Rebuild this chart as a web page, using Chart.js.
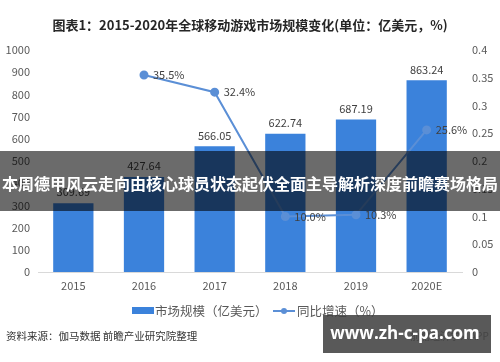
<!DOCTYPE html>
<html>
<head>
<meta charset="utf-8">
<script src="https://cdn.jsdelivr.net/npm/chart.js@4"></script>
<style>
  body { margin: 0; background: #fff; }
  canvas { display: block; }
</style>
</head>
<body>
<canvas id="gameChart" width="500" height="362"></canvas>
<script>
// data
const years = ['2015', '2016', '2017', '2018', '2019', '2020E'];
const marketSize = [309.69, 427.64, 566.05, 622.74, 687.19, 863.24];
const growthRate = [null, 0.355, 0.324, 0.100, 0.103, 0.256];
const sizeLabel = '市场规模（亿美元）';
const rateLabel = '同比增速（%）';
const titleText = '图表1：2015-2020年全球移动游戏市场规模变化(单位：亿美元，%)';
const sourceText = '资料来源：伽马数据 前瞻产业研究院整理';
const bannerText = '本周德甲风云走向由核心球员状态起伏全面主导解析深度前瞻赛场格局';
const siteText = 'www.zh-c-pa.com';

const barColor = '#3b82db';
const lineColor = '#5b8fd6';
const font = '"Noto Sans CJK SC", "Noto Sans", sans-serif';

// value labels, title, legend, source line and the overlays
const extras = {
    id: 'extras',
    afterDatasetsDraw(chart) {
        const ctx = chart.ctx;
        ctx.save();
        ctx.fillStyle = '#404040';
        ctx.font = '11px ' + font;
        ctx.textAlign = 'center';
        ctx.textBaseline = 'middle';
        chart.getDatasetMeta(0).data.forEach((bar, i) => {
            ctx.fillText(marketSize[i].toFixed(2), bar.x, bar.y - 11);
        });
        ctx.textAlign = 'left';
        chart.getDatasetMeta(1).data.forEach((pt, i) => {
            if (growthRate[i] == null) return;
            ctx.fillText((growthRate[i] * 100).toFixed(1) + '%', pt.x + 9, pt.y);
        });
        ctx.restore();
    },
    afterDraw(chart) {
        const ctx = chart.ctx;
        ctx.save();
        ctx.textBaseline = 'middle';

        // title
        ctx.fillStyle = '#262626';
        ctx.font = 'bold 13px ' + font;
        ctx.textAlign = 'center';
        ctx.fillText(titleText, 250, 25);

        // legend
        ctx.textAlign = 'left';
        ctx.font = '12.5px ' + font;
        ctx.fillStyle = barColor;
        ctx.fillRect(132, 307, 22, 7);
        ctx.fillStyle = '#595959';
        ctx.fillText(sizeLabel, 155, 311);
        ctx.strokeStyle = lineColor;
        ctx.lineWidth = 2;
        ctx.beginPath();
        ctx.moveTo(273, 311);
        ctx.lineTo(295, 311);
        ctx.stroke();
        ctx.fillStyle = lineColor;
        ctx.beginPath();
        ctx.arc(284, 311, 3, 0, Math.PI * 2);
        ctx.fill();
        ctx.fillStyle = '#595959';
        ctx.fillText(rateLabel, 297, 311);

        // source
        ctx.fillStyle = '#333';
        ctx.font = '10.5px ' + font;
        ctx.fillText(sourceText, 6, 336);
        ctx.fillStyle = '#777';
        ctx.font = '10px ' + font;
        ctx.fillText('前瞻经济学人APP', 410, 336);

        // banner across the middle
        ctx.fillStyle = 'rgba(0,0,0,0.58)';
        ctx.fillRect(0, 151, 500, 60);
        ctx.fillStyle = '#fff';
        ctx.font = 'bold 16px ' + font;
        ctx.textAlign = 'center';
        ctx.fillText(bannerText, 250, 184);

        // site box
        ctx.fillStyle = 'rgba(60,60,60,0.85)';
        ctx.fillRect(323, 315, 168, 38);
        ctx.fillStyle = '#fff';
        ctx.font = 'bold 17px "Open Sans", sans-serif';
        ctx.fillText(siteText, 405, 334);
        ctx.restore();
    }
};

new Chart(document.getElementById('gameChart'), {
    type: 'bar',
    data: {
        labels: years,
        datasets: [{
            label: sizeLabel,
            data: marketSize,
            backgroundColor: barColor,
            categoryPercentage: 1,
            barPercentage: 0.57,
            yAxisID: 'y',
            order: 2
        }, {
            type: 'line',
            label: rateLabel,
            data: growthRate,
            borderColor: lineColor,
            backgroundColor: lineColor,
            borderWidth: 2,
            pointRadius: 3.5,
            tension: 0,
            yAxisID: 'y1',
            order: 1
        }]
    },
    options: {
        responsive: false,
        animation: false,
        layout: { padding: { top: 50, bottom: 64, left: 0, right: 0 } },
        plugins: {
            legend: { display: false },
            title: { display: false },
            tooltip: { enabled: false }
        },
        scales: {
            x: {
                grid: { display: false, drawTicks: false },
                border: { color: '#d9d9d9' },
                ticks: { color: '#595959', font: { size: 11, family: font }, padding: 7 },
                afterFit(s) { s.height = 26; }
            },
            y: {
                min: 0, max: 1000,
                grid: { display: false, drawTicks: false },
                border: { display: false },
                ticks: { stepSize: 100, color: '#595959', font: { size: 11, family: font }, padding: 8,
                    callback: v => String(v) },
                afterFit(s) { s.width = 38; }
            },
            y1: {
                position: 'right',
                min: 0, max: 0.4,
                grid: { display: false, drawTicks: false },
                border: { display: false },
                ticks: { stepSize: 0.05, color: '#595959', font: { size: 11, family: font }, padding: 10,
                    callback: v => String(+v.toFixed(2)) },
                afterFit(s) { s.width = 38; }
            }
        }
    },
    plugins: [extras]
});
</script>
</body>
</html>
